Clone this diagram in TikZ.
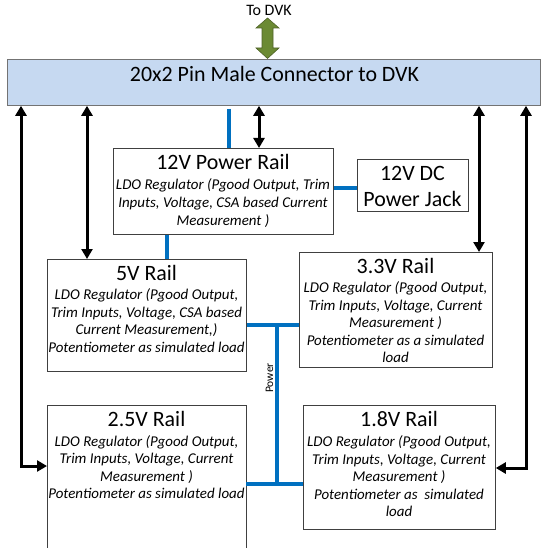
\documentclass[tikz,border=0pt]{standalone}
\usepackage{fontspec}
\setmainfont{Carlito}
\usetikzlibrary{arrows.meta,calc}
\definecolor{connfill}{HTML}{C6D9F1}
\definecolor{buslink}{HTML}{0070C0}
\definecolor{olivefill}{HTML}{6B8A33}
\definecolor{oliveedge}{HTML}{4F6228}
\newcommand{\mylines}[1]{\begin{tabular}[t]{@{}c@{}}#1\end{tabular}}
\tikzset{
  railbox/.style={draw=black!75, line width=0.8bp, fill=white, inner sep=0pt, anchor=north west},
  titletext/.style={font=\fontsize{22}{26}\selectfont, inner sep=0pt, anchor=base},
  bodytext/.style={font=\fontsize{15}{17.6}\selectfont\itshape, inner sep=0pt, anchor=base},
  dblarrow/.style={line width=3bp, arrows={Triangle[width=11bp,length=10bp]-Triangle[width=11bp,length=10bp]}},
  buswire/.style={draw=buslink, line width=3.3bp},
}
\begin{document}
\begin{tikzpicture}[x=1bp,y=-1bp]
\useasboundingbox (0,0) rectangle (553,548);

% top label and connector
\node[font=\fontsize{16}{19}\selectfont, anchor=base, inner sep=0pt] (todvk) at (269,15.5) {To DVK};
\node[draw=black!55, fill=connfill, line width=0.8bp, minimum width=533bp, minimum height=46bp, anchor=north west, inner sep=0pt] (conn) at (7,59) {};
\node[titletext] (conntext) at (274.5,82) {20x2 Pin Male Connector to DVK};
\draw[fill=olivefill, draw=oliveedge, line width=0.6bp]
  (267.5,18) -- (279,28) -- (273,28) -- (273,48) -- (279,48) -- (267.5,58.5)
  -- (256,48) -- (262,48) -- (262,28) -- (256,28) -- cycle;

% 12V power rail
\node[railbox, minimum width=220bp, minimum height=86bp] (p12) at (113,148) {};
\node[titletext] (p12t) at (223,170) {12V Power Rail};
\node[bodytext] (p12b) at (223,190) {\mylines{LDO Regulator (Pgood Output, Trim\\Inputs, Voltage, CSA based Current\\Measurement )}};

% jack
\node[railbox, minimum width=111bp, minimum height=52bp] (jack) at (357,159) {};
\node[titletext, font=\fontsize{22}{26}\selectfont] (jackt) at (412.5,181) {\mylines{12V DC\\Power Jack}};

% 5V
\node[railbox, minimum width=199bp, minimum height=112bp] (p5) at (47,259) {};
\node[titletext] (p5t) at (146.5,280) {5V Rail};
\node[bodytext] (p5b) at (146.5,299.5) {\mylines{LDO Regulator (Pgood Output,\\Trim Inputs, Voltage, CSA based\\Current Measurement,)\\Potentiometer as simulated load}};

% 3.3V
\node[railbox, minimum width=193bp, minimum height=115bp] (p33) at (299,252) {};
\node[titletext] (p33t) at (395.5,273) {3.3V Rail};
\node[bodytext] (p33b) at (395.5,292.5) {\mylines{LDO Regulator (Pgood Output,\\Trim Inputs, Voltage, Current\\Measurement )\\Potentiometer as a simulated\\load}};

% 2.5V (bottom runs off the picture)
\node[inner sep=0pt, minimum width=199bp, minimum height=150bp, anchor=north west] (p25) at (47,405) {};
\draw[draw=black!75, line width=0.8bp] (p25.south west) -- (p25.north west) -- (p25.north east) -- (p25.south east);
\node[titletext] (p25t) at (146.5,426) {2.5V Rail};
\node[bodytext] (p25b) at (146.5,446) {\mylines{LDO Regulator (Pgood Output,\\Trim Inputs, Voltage, Current\\Measurement )\\Potentiometer as simulated load}};

% 1.8V
\node[railbox, minimum width=192bp, minimum height=124bp] (p18) at (303,405) {};
\node[titletext] (p18t) at (399,426) {1.8V Rail};
\node[bodytext] (p18b) at (399,446.5) {\mylines{LDO Regulator (Pgood Output,\\Trim Inputs, Voltage, Current\\Measurement )\\Potentiometer as\ \ simulated\\load}};

% coordinates for connectors
\coordinate (xL) at (21,466);
\coordinate (xR) at (526,468);
\coordinate (x5) at (87,0);
\coordinate (x12) at (259,0);
\coordinate (x33) at (479,0);
\coordinate (xb) at (229,0);
\coordinate (xj) at (0,188);
\coordinate (x5b) at (167,0);
\coordinate (bus1) at (277,325);
\coordinate (bus2) at (277,484);

% black signal arrows
\draw[dblarrow] (conn.south -| xL) |- (p25.west |- xL);
\draw[dblarrow] (conn.south -| x5) -- (p5.north -| x5);
\draw[dblarrow] (conn.south -| x12) -- (p12.north -| x12);
\draw[dblarrow] (conn.south -| x33) -- (p33.north -| x33);
\draw[dblarrow] (conn.south -| xR) |- (p18.east |- xR);

% blue power wires
\draw[buswire, shorten <=3bp] (conn.south -| xb) -- (p12.north -| xb);
\draw[buswire] (p12.east |- xj) -- (jack.west |- xj);
\draw[buswire] (p12.south -| x5b) -- (p5.north -| x5b);
\draw[buswire] (p5.east |- bus1) -- (p33.west |- bus1);
\draw[buswire] (bus1) -- (bus2);
\draw[buswire] (p25.east |- bus2) -- (p18.west |- bus2);
\node[font=\fontsize{11.5}{13}\selectfont, rotate=90, inner sep=0pt] (pwr) at (269.5,378) {Power};
\end{tikzpicture}
\end{document}
